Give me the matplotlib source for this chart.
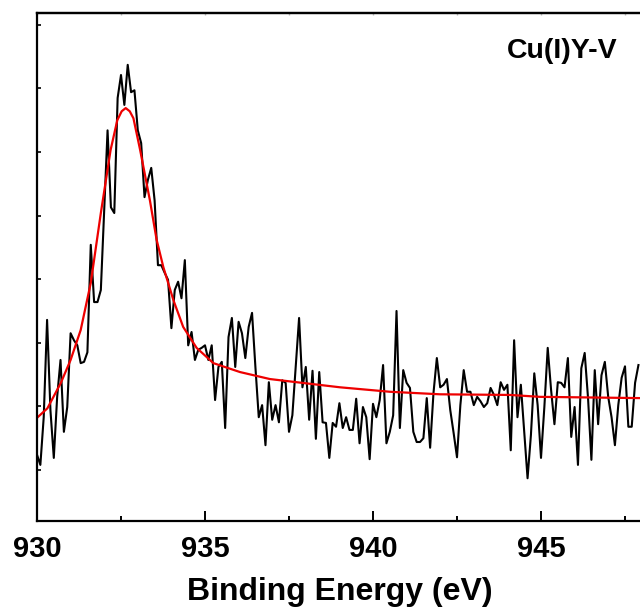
import numpy as np
import matplotlib
matplotlib.use("Agg")
import matplotlib.pyplot as plt
from matplotlib.ticker import MultipleLocator, NullFormatter

plt.rcParams["font.family"] = ["Liberation Sans", "DejaVu Sans"]

# measured spectrum, 0.1 eV steps starting at 930.0 eV
be_start = 930.0
be_step = 0.1
counts = [
    124, 108, 183, 336, 194, 119, 215, 273, 160, 199,
    315, 304, 296, 268, 270, 285, 454, 364, 364, 383,
    509, 634, 513, 504, 685, 721, 674, 737, 694, 697,
    634, 614, 529, 556, 575, 524, 422, 422, 410, 399,
    323, 383, 396, 370, 430, 296, 317, 273, 289, 292,
    296, 273, 296, 210, 262, 270, 166, 309, 339, 262,
    333, 315, 276, 325, 347, 262, 183, 202, 139, 238,
    179, 202, 175, 241, 237, 160, 186, 262, 339, 230,
    262, 179, 256, 149, 254, 175, 174, 119, 174, 168,
    205, 166, 183, 163, 163, 212, 142, 199, 183, 117,
    204, 183, 210, 265, 142, 160, 186, 350, 166, 257,
    237, 229, 160, 144, 144, 150, 213, 135, 221, 276,
    230, 234, 243, 194, 158, 120, 202, 257, 223, 223,
    202, 215, 208, 199, 205, 229, 218, 202, 238, 226,
    234, 131, 304, 183, 234, 160, 87, 155, 252, 202,
    119, 199, 292, 226, 172, 238, 237, 230, 276, 152,
    199, 108, 260, 284, 213, 116, 257, 172, 249, 270,
    215, 183, 139, 202, 245, 263, 168, 168, 237, 265,
]

# fitted envelope
fit_be = [930.0, 930.31, 930.71, 931.0, 931.3, 931.6, 931.9, 932.19, 932.39,
          932.52, 932.64, 932.76, 932.87, 933.07, 933.36, 933.56, 933.76, 934.06,
          934.35, 934.75, 935.25, 936.04, 936.93, 937.73, 939.02, 940.5, 942.0,
          944.08, 944.97, 948.0]
fit_counts = [182, 197, 237, 273, 320, 394, 504, 603, 650,
              664, 669, 664, 653, 603, 524, 462, 419, 367,
              325, 292, 268, 254, 243, 238, 230, 223, 219,
              218, 215, 213]

sample_label = "Cu(I)Y-V"

be = be_start + be_step * np.arange(len(counts))

fig = plt.figure(figsize=(6.4, 6.1), dpi=100)
ax = fig.add_axes([37 / 640, 89 / 610, 604.8 / 640, 508 / 610])

ax.plot(be, counts, color="black", lw=1.5)
ax.plot(fit_be, fit_counts, color="#ee0000", lw=1.6)

ax.set_xlim(930, 948)
ax.set_ylim(19.8, 818.5)

ax.xaxis.set_major_locator(MultipleLocator(5))
ax.xaxis.set_minor_locator(MultipleLocator(2.5))
ax.yaxis.set_major_locator(MultipleLocator(100))
ax.yaxis.set_major_formatter(NullFormatter())

ax.tick_params(axis="x", which="major", direction="in", length=7, width=1.4,
               pad=10, labelsize=21)
ax.tick_params(axis="x", which="minor", direction="in", length=3.5, width=1.4)
ax.tick_params(axis="y", which="major", direction="in", length=3, width=1.2)
for lab in ax.get_xticklabels():
    lab.set_fontweight("bold")

# faint short ticks under the top frame
top = ax.secondary_xaxis("top")
top.xaxis.set_major_locator(MultipleLocator(2.5))
top.tick_params(direction="in", length=1.5, width=1, color="#bbbbbb",
                labeltop=False)

for s in ax.spines.values():
    s.set_linewidth(1.6)
top.spines["top"].set_linewidth(1.6)

ax.set_xlabel("Binding Energy (eV)", fontsize=23, fontweight="bold", labelpad=10)
ax.text(0.96, 0.95, sample_label, transform=ax.transAxes, ha="right", va="top",
        fontsize=20.5, fontweight="bold")

fig.savefig("out.png", dpi=100)
